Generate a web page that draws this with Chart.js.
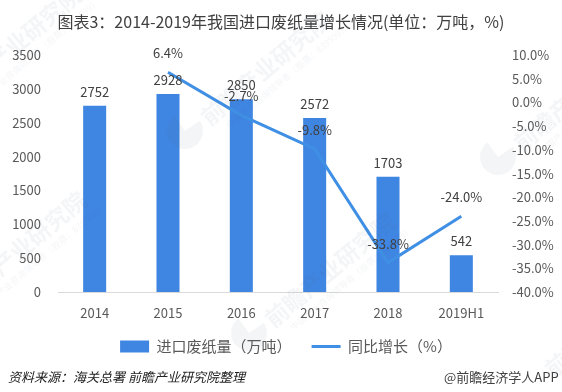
<!DOCTYPE html>
<html><head><meta charset="utf-8">
<style>html,body{margin:0;padding:0;background:#fff}#w{position:relative;width:562px;height:392px}</style>
<script src="https://cdn.jsdelivr.net/npm/chart.js@4"></script>
</head><body><div id="w"><canvas id="c" width="562" height="392"></canvas></div>
<script>
const categories=["2014","2015","2016","2017","2018","2019H1"];
const importVolume=[2752,2928,2850,2572,1703,542];
const yoyGrowth=[null,6.4,-2.7,-9.8,-33.8,-24.0];
const volumeLabels=["2752","2928","2850","2572","1703","542"];
const growthLabels=[null,"6.4%","-2.7%","-9.8%","-33.8%","-24.0%"];
const FONT='"Noto Sans CJK SC","Liberation Sans",sans-serif';
const BLUE='#3f85e2', LINE='#3f8fe4', DARK='#404040', GREY='#595959';
const marks={id:'marks',
 afterLayout(ch){ch.legend.left+=5;ch.legend.right+=5;},
 afterDatasetsDraw(ch){const x=ch.ctx,s=ch.scales;x.save();x.font='13px '+FONT;x.fillStyle=DARK;x.textAlign='center';x.textBaseline='middle';
  volumeLabels.forEach((t,i)=>x.fillText(t,s.x.getPixelForValue(i),s.y.getPixelForValue(importVolume[i])-14));
  growthLabels.forEach((t,i)=>{if(t)x.fillText(t,s.x.getPixelForValue(i),s.y2.getPixelForValue(yoyGrowth[i])-19);});
  x.restore();},
 afterDraw(ch){const x=ch.ctx;x.save();
  x.textBaseline='middle';x.textAlign='left';
  x.font='italic 13px '+FONT;x.fillStyle='#222';x.fillText('资料来源：海关总署 前瞻产业研究院整理',8,377);
  x.font='13px '+FONT;x.fillStyle=DARK;x.fillText('@前瞻经济学人APP',444,377);
  const c='rgba(90,110,140,0.065)';
  [[204,120,true],[517,146,true],[268,322,true],[-40,300,false],[-45,95,false],[548,372,false]].forEach(([a,b,logo])=>{
   x.save();x.translate(a,b);x.rotate(-0.7);x.fillStyle=c;
   x.font='bold 23px '+FONT;x.fillText('前瞻产业研究院',0,0);
   x.font='9px '+FONT;x.fillText('中国产业咨询领导者（股票：839599）',14,20);
   x.restore();
   if(logo){x.save();x.fillStyle=c;x.beginPath();x.moveTo(a-19,b+11);x.arc(a-19,b+11,18,-0.6,-2.2,false);x.closePath();x.fill();x.restore();}
  });
  x.restore();}};
new Chart(document.getElementById('c'),{
 data:{labels:categories,datasets:[
  {type:'bar',label:'进口废纸量（万吨）',data:importVolume,yAxisID:'y',backgroundColor:BLUE,barPercentage:0.314,categoryPercentage:1,order:1},
  {type:'line',label:'同比增长（%）',data:yoyGrowth,yAxisID:'y2',borderColor:LINE,backgroundColor:LINE,borderWidth:3,pointRadius:0,tension:0,spanGaps:false,order:0}
 ]},
 plugins:[marks],
 options:{responsive:false,animation:false,
  layout:{padding:{left:0,right:0,top:0,bottom:28}},
  plugins:{
   title:{display:true,text:'图表3：2014-2019年我国进口废纸量增长情况(单位：万吨，%)',font:{family:FONT,size:16,weight:'normal'},color:'#404040',padding:{top:12,bottom:24}},
   tooltip:{enabled:false},
   legend:{position:'bottom',reverse:true,labels:{usePointStyle:true,pointStyleWidth:29,boxHeight:12,font:{family:FONT,size:15},color:GREY,padding:20,
     generateLabels(ch){const a=Chart.defaults.plugins.legend.labels.generateLabels(ch);a.forEach(l=>{l.pointStyle=ch.data.datasets[l.datasetIndex].type==='line'?'line':'rect';});return a;}}}
  },
  scales:{
   x:{grid:{display:false,drawTicks:false},border:{color:'#d9d9d9'},ticks:{color:GREY,font:{family:FONT,size:13},padding:13},afterFit(a){a.height=27;}},
   y:{position:'left',min:0,max:3500,afterFit(a){a.width=58;},grid:{display:false,drawTicks:false},border:{display:false},ticks:{stepSize:500,color:GREY,font:{family:FONT,size:13},padding:17,callback:v=>String(v)}},
   y2:{position:'right',min:-40,max:10,afterFit(a){a.width=64;},grid:{display:false,drawTicks:false},border:{display:false},ticks:{stepSize:5,color:GREY,font:{family:FONT,size:13},padding:14,callback:v=>v.toFixed(1)+'%'}}
  }}});
</script></body></html>
